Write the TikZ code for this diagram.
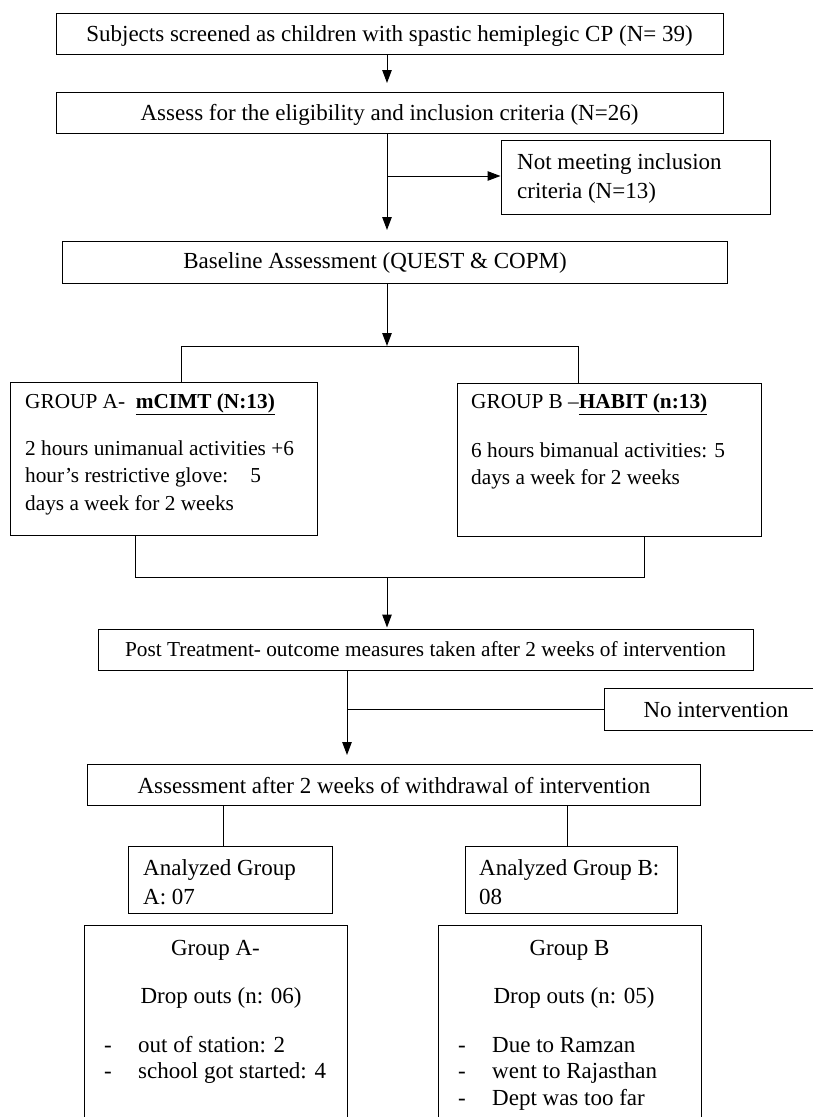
\documentclass[tikz,border=0pt]{standalone}
\usepackage{fontspec}
\setmainfont{Liberation Serif}
\usetikzlibrary{arrows.meta}
\newcommand\myfs{\fontsize{23}{28}\selectfont}
\newcommand\mysfs{\fontsize{21.3}{26}\selectfont}
\tikzset{
  box/.style={draw, line width=1pt, inner sep=0pt},
  txt/.style={inner sep=0pt, font=\myfs},
  stxt/.style={inner sep=0pt, font=\mysfs},
  arr/.style={-{Triangle[length=13pt,width=9.5pt]}, line width=1pt},
  ln/.style={line width=0.9pt}
}
\begin{document}
\begin{tikzpicture}[x=1pt,y=-1pt]
\useasboundingbox (0,0) rectangle (813,1117);
\clip (0,0) rectangle (813,1117);
% boxes
\node[box, minimum width=667, minimum height=41] (b1) at (389.5,33.5) {};
\node[box, minimum width=667, minimum height=41] (b2) at (389.5,112.5) {};
\node[box, minimum width=269, minimum height=74] (nm) at (635.5,177) {};
\node[box, minimum width=665, minimum height=42] (base) at (394.5,262) {};
\node[box, minimum width=307, minimum height=153] (gA) at (163.5,458.5) {};
\node[box, minimum width=304, minimum height=153] (gB) at (609,459.5) {};
\node[box, minimum width=655, minimum height=41] (post) at (425.5,649.5) {};
\node[box, minimum width=226, minimum height=42] (noint) at (717,709) {};
\node[box, minimum width=613, minimum height=41] (assess) at (393.5,784.5) {};
\node[box, minimum width=204, minimum height=67] (anA) at (230,879.5) {};
\node[box, minimum width=212, minimum height=67] (anB) at (571,879.5) {};
\node[box, minimum width=263, minimum height=215] (dA) at (215.5,1032.5) {};
\node[box, minimum width=263, minimum height=215] (dB) at (569.5,1032.5) {};
% texts
\node[txt, anchor=base] (t1) at (389.5,41) {Subjects screened as children with spastic hemiplegic CP (N= 39)};
\node[txt, anchor=base] (t2) at (389.5,120) {Assess for the eligibility and inclusion criteria (N=26)};
\node[txt, anchor=base west] (tnm1) at (517,169) {Not meeting inclusion};
\node[txt, anchor=base west] (tnm2) at (517,198) {criteria (N=13)};
\node[txt, anchor=base] (tb) at (375,268) {Baseline Assessment (QUEST \& COPM)};
\node[stxt, anchor=base west] (ga0) at (25,408) {GROUP A-\ \ \underline{\textbf{mCIMT (N:13)}}};
\node[stxt, anchor=base west] (ga1) at (25,455) {2 hours unimanual activities +6};
\node[stxt, anchor=base west] (ga2) at (25,482.5) {hour’s restrictive glove:\hspace{22pt}5};
\node[stxt, anchor=base west] (ga3) at (25,510) {days a week for 2 weeks};
\node[stxt, anchor=base west] (gb0) at (471,408) {GROUP B –\underline{\textbf{HABIT (n:13)}}};
\node[stxt, anchor=base west] (gb1) at (471,457) {6 hours bimanual activities: 5};
\node[stxt, anchor=base west] (gb2) at (471,484.5) {days a week for 2 weeks};
\node[stxt, anchor=base] (tp) at (425.5,656) {Post Treatment- outcome measures taken after 2 weeks of intervention};
\node[txt, anchor=base] (tni) at (716,717) {No intervention};
\node[txt, anchor=base] (ta) at (394,793) {Assessment after 2 weeks of withdrawal of intervention};
\node[txt, anchor=base west] (taa1) at (143,875) {Analyzed Group};
\node[txt, anchor=base west] (taa2) at (143,904) {A: 07};
\node[txt, anchor=base west] (tab1) at (479,875) {Analyzed Group B:};
\node[txt, anchor=base west] (tab2) at (479,904) {08};
\node[txt, anchor=base] (tda0) at (215.5,955) {Group A-};
\node[txt, anchor=base] (tda1) at (221,1003) {Drop outs (n: 06)};
\node[txt, anchor=base west] (tdab1) at (104,1052) {-};
\node[txt, anchor=base west] (tda2) at (138,1052) {out of station: 2};
\node[txt, anchor=base west] (tdab2) at (104,1078) {-};
\node[txt, anchor=base west] (tda3) at (138,1078) {school got started: 4};
\node[txt, anchor=base] (tdb0) at (569.5,955) {Group B};
\node[txt, anchor=base] (tdb1) at (574,1003) {Drop outs (n: 05)};
\node[txt, anchor=base west] (tdbb1) at (458,1052) {-};
\node[txt, anchor=base west] (tdb2) at (492,1052) {Due to Ramzan};
\node[txt, anchor=base west] (tdbb2) at (458,1078) {-};
\node[txt, anchor=base west] (tdb3) at (492,1078) {went to Rajasthan};
\node[txt, anchor=base west] (tdbb3) at (458,1105) {-};
\node[txt, anchor=base west] (tdb4) at (492,1105) {Dept was too far};
% connector coordinates
\coordinate (a1) at (387,83);
\coordinate (a2) at (387,230);
\coordinate (s1) at (387,176);
\coordinate (j1) at (387,346);
\coordinate (sl) at (181,346);
\coordinate (sr) at (578,346);
\coordinate (ml) at (135,577);
\coordinate (mr) at (644,577);
\coordinate (j2) at (387,577);
\coordinate (a4) at (347,755);
\coordinate (s2) at (347,709);
\coordinate (dl) at (223,0);
\coordinate (dr) at (567,0);
% connectors
\draw[arr] (b1.south -| a1) -- (a1);
\draw[arr] (b2.south -| a2) -- (a2);
\draw[arr] (s1) -- (nm.west |- s1);
\draw[arr] (base.south -| j1) -- (j1);
\draw[ln] (gA.north -| sl) -- (sl) -- (sr) -- (gB.north -| sr);
\draw[ln] (gA.south -| ml) -- (ml) -- (mr) -- (gB.south -| mr);
\draw[arr] (j2) -- ([yshift=1pt]post.north -| j2);
\draw[arr] (post.south -| a4) -- (a4);
\draw[ln] (s2) -- (noint.west |- s2);
\draw[ln] (assess.south -| dl) -- (anA.north -| dl);
\draw[ln] (assess.south -| dr) -- (anB.north -| dr);
\end{tikzpicture}
\end{document}
